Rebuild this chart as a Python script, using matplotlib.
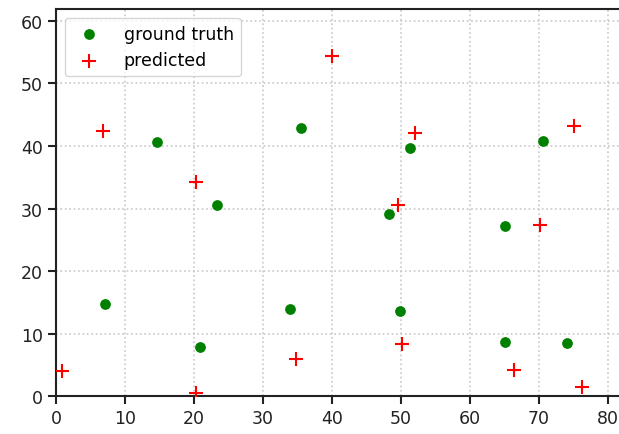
import numpy as np
import matplotlib
matplotlib.use('Agg')
import matplotlib.pyplot as plt

# ground truth positions
gt_x = [7.1, 14.7, 20.9, 23.3, 33.9, 35.5, 48.3, 51.3, 49.9, 65.0, 65.0, 70.6, 74.0]
gt_y = [14.8, 40.7, 7.8, 30.5, 13.9, 42.8, 29.2, 39.7, 13.6, 27.2, 8.7, 40.8, 8.5]

# predicted positions
pr_x = [0.8, 6.8, 20.3, 20.3, 34.8, 40.0, 52.0, 49.6, 50.2, 66.4, 70.2, 75.0, 76.2]
pr_y = [4.1, 42.4, 34.3, 0.5, 6.0, 54.4, 42.1, 30.5, 8.4, 4.2, 27.4, 43.2, 1.5]

fig = plt.figure(figsize=(6.19, 4.35), dpi=100)
ax = fig.add_axes([0.0905, 0.087, 0.912, 0.89])

ax.scatter(gt_x, gt_y, s=45, c='green', label='ground truth', zorder=3)
ax.scatter(pr_x, pr_y, s=90, c='red', marker='+', linewidths=1.5, label='predicted', zorder=3)

ax.set_xlim(0, 81.8)
ax.set_ylim(0, 61.9)
ax.set_xticks(np.arange(0, 81, 10))
ax.set_yticks(np.arange(0, 61, 10))
ax.grid(True, linestyle=':', color='#c8c8c8', linewidth=1.2)
ax.set_axisbelow(True)

for s in ['left', 'bottom', 'top']:
    ax.spines[s].set_linewidth(1.5)
    ax.spines[s].set_color('#222222')
ax.spines['right'].set_visible(False)
ax.tick_params(labelsize=12.5, width=1.5, length=6, colors='#222222')

ax.legend(loc='upper left', fontsize=12.5, scatterpoints=1, framealpha=0.8,
          edgecolor='#cccccc', borderpad=0.4, handletextpad=1.0,
          borderaxespad=0.5)

fig.savefig('out.png', dpi=100)
